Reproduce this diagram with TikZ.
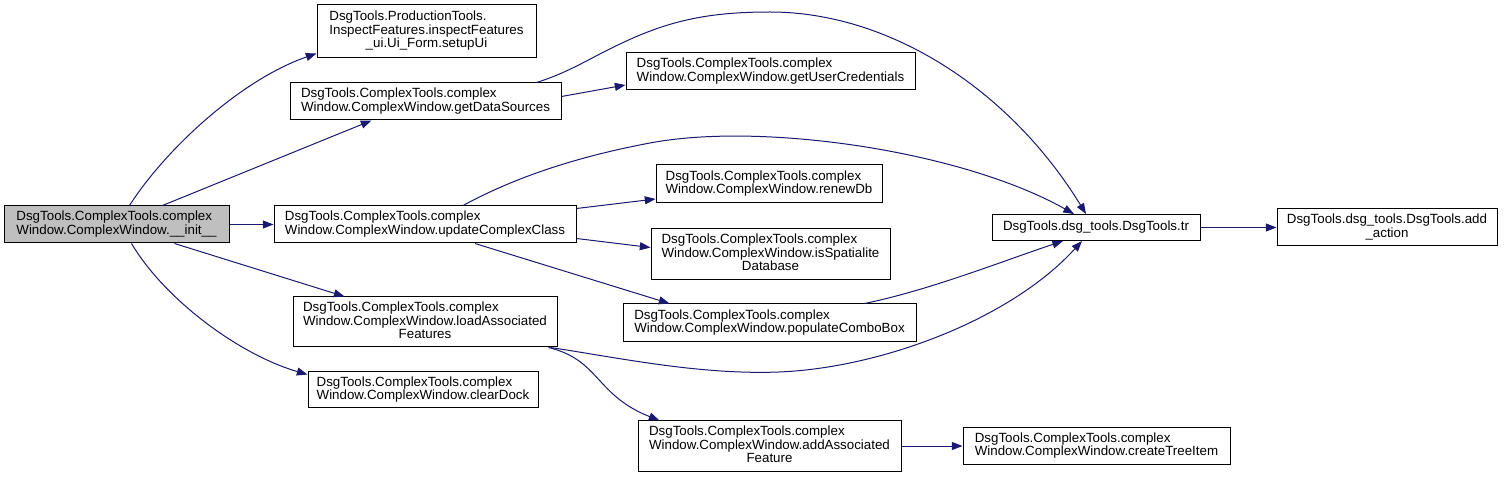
\documentclass[tikz,border=0pt]{standalone}
\usepackage{fontspec}
\setmainfont{Liberation Sans}
\usetikzlibrary{arrows.meta,calc}
\newcommand{\twol}[2]{\begin{tabular}{@{}l@{}}#1\\\multicolumn{1}{@{}c@{}}{#2}\end{tabular}}
\definecolor{edgeblue}{HTML}{191970}
\definecolor{initgray}{HTML}{BFBFBF}
\begin{document}
\begin{tikzpicture}[x=0.75pt,y=-0.75pt,
  fn/.style={draw=black,line width=0.75pt,fill=white,inner sep=1pt,
    font=\fontsize{10}{9.75}\selectfont},
  call/.style={draw=edgeblue,line width=0.75pt,-{Triangle[length=8pt,width=6pt]}},
]
\useasboundingbox (0,0) rectangle (1504,477);
\node[fn,fill=initgray,minimum width=225*0.75pt,minimum height=37*0.75pt] (init) at (116.5,224.5)
  {\twol{DsgTools.ComplexTools.complex}{Window.ComplexWindow.\_\_init\_\_}};
\node[fn,minimum width=219*0.75pt,minimum height=53*0.75pt] (setupUi) at (426.5,31.5)
  {\twol{DsgTools.ProductionTools.\\InspectFeatures.inspectFeatures}{\_ui.Ui\_Form.setupUi}};
\node[fn,minimum width=271*0.75pt,minimum height=37*0.75pt] (gds) at (425.5,101.5)
  {\twol{DsgTools.ComplexTools.complex}{Window.ComplexWindow.getDataSources}};
\node[fn,minimum width=302*0.75pt,minimum height=37*0.75pt] (ucc) at (425,224.5)
  {\twol{DsgTools.ComplexTools.complex}{Window.ComplexWindow.updateComplexClass}};
\node[fn,minimum width=264*0.75pt,minimum height=50*0.75pt] (laf) at (425,322)
  {\twol{DsgTools.ComplexTools.complex\\Window.ComplexWindow.loadAssociated}{Features}};
\node[fn,minimum width=230*0.75pt,minimum height=36*0.75pt] (cd) at (423,390)
  {\twol{DsgTools.ComplexTools.complex}{Window.ComplexWindow.clearDock}};
\node[fn,minimum width=289*0.75pt,minimum height=37*0.75pt] (guc) at (770.5,71.5)
  {\twol{DsgTools.ComplexTools.complex}{Window.ComplexWindow.getUserCredentials}};
\node[fn,minimum width=226*0.75pt,minimum height=38*0.75pt] (rdb) at (769,184)
  {\twol{DsgTools.ComplexTools.complex}{Window.ComplexWindow.renewDb}};
\node[fn,minimum width=239*0.75pt,minimum height=51*0.75pt] (isd) at (770.5,254.5)
  {\twol{DsgTools.ComplexTools.complex\\Window.ComplexWindow.isSpatialite}{Database}};
\node[fn,minimum width=293*0.75pt,minimum height=38*0.75pt] (pcb) at (769.5,323)
  {\twol{DsgTools.ComplexTools.complex}{Window.ComplexWindow.populateComboBox}};
\node[fn,minimum width=208*0.75pt,minimum height=26*0.75pt] (tr) at (1096,227.5)
  {DsgTools.dsg\_tools.DsgTools.tr};
\node[fn,minimum width=220*0.75pt,minimum height=37*0.75pt] (add) at (1387,227.5)
  {\twol{DsgTools.dsg\_tools.DsgTools.add}{\_action}};
\node[fn,minimum width=263*0.75pt,minimum height=50*0.75pt] (aaf) at (769.5,446)
  {\twol{DsgTools.ComplexTools.complex\\Window.ComplexWindow.addAssociated}{Feature}};
\node[fn,minimum width=267*0.75pt,minimum height=37*0.75pt] (cti) at (1096.5,446)
  {\twol{DsgTools.ComplexTools.complex}{Window.ComplexWindow.createTreeItem}};

% edges from __init__
\draw[call] ($(init.north west)+(126,0)$) .. controls (165,150) and (240,80) .. ($(setupUi.south west)+(0,-5)$);
\draw[call] ($(init.north west)+(159,0)$) -- ($(gds.south west)+(82,0)$);
\draw[call] (init.east) -- (ucc.west);
\draw[call] ($(init.south west)+(171,0)$) -- ($(laf.north west)+(52,0)$);
\draw[call] ($(init.south west)+(128,0)$) .. controls (165,300) and (240,355) .. ($(cd.north west)+(0,3)$);
% getDataSources
\draw[call] ($(gds.east)+(0,-5)$) -- ($(guc.west)+(0,13.5)$);
\draw[call] ($(gds.north east)+(-25,0)$) .. controls (570,72) and (590,58) .. (620,44)
  .. controls (670,20) and (710,12) .. (770,12)
  .. controls (890,12) and (1010,90) .. ($(tr.north)+(-10,0)$);
% updateComplexClass
\draw[call] ($(ucc.north)+(38,0)$) .. controls (510,180) and (570,158) .. (650,143)
  .. controls (760,122) and (960,150) .. ($(tr.north)+(-22,0)$);
\draw[call] ($(ucc.east)+(0,-16)$) -- ($(rdb.west)+(0,15)$);
\draw[call] ($(ucc.east)+(0,14)$) -- ($(isd.west)+(0,-7)$);
\draw[call] ($(ucc.south)+(50,0)$) -- ($(pcb.north west)+(47,0)$);
% populateComboBox
\draw[call] ($(pcb.north east)+(-52,0)$) .. controls (930,290) and (1000,262) .. ($(tr.south)+(-33,0)$);
% loadAssociatedFeatures
\draw[call] ($(laf.south east)+(-7,0)$) .. controls (620,358) and (700,375) .. (779,372)
  .. controls (880,368) and (1010,320) .. ($(tr.south)+(-14,0)$);
\draw[call] ($(laf.south east)+(-9,0)$) .. controls (600,360) and (595,395) .. ($(aaf.north west)+(22,0)$);
% tr
\draw[call] (tr.east) -- (add.west);
% addAssociatedFeature
\draw[call] (aaf.east) -- (cti.west);
\end{tikzpicture}
\end{document}
